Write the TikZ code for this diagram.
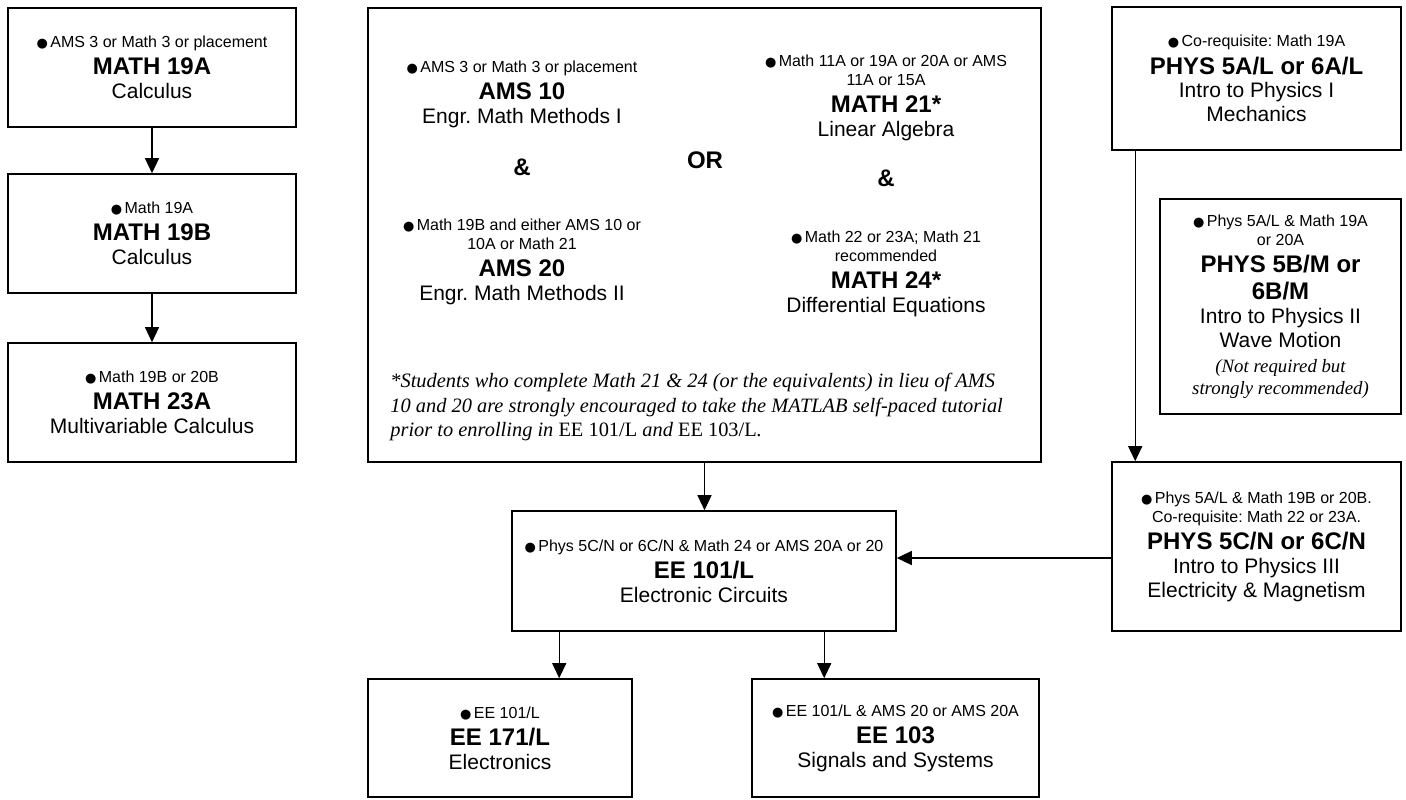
\documentclass[tikz,border=0pt]{standalone}
\usepackage{fontspec}
\setmainfont{Liberation Sans}
\newfontfamily\notefont{Liberation Serif}
\newfontfamily\symf{DejaVu Sans}
\usetikzlibrary{arrows.meta}
\frenchspacing
\newcommand\bul{{\symf\fontsize{6.5}{6.5}\selectfont ●}\hspace{1.2pt}}
\newcommand\cpre[1]{{\fontsize{8}{9.6}\selectfont #1\par}}
\newcommand\cttl[1]{{\fontsize{12}{13.6}\selectfont\bfseries #1\par}}
\newcommand\csub[1]{{\fontsize{10.5}{11.9}\selectfont #1\par}}
\newcommand\cital[2]{{\notefont\itshape\fontsize{9.4}{#1}\selectfont #2\par}}
\begin{document}
\begin{tikzpicture}[x=0.5pt,y=-0.5pt,
  box/.style={draw, line width=0.8pt, inner sep=0pt, align=flush center},
  lbl/.style={inner sep=0pt, align=flush center},
  bigword/.style={inner sep=0pt, font=\fontsize{12}{14}\selectfont\bfseries},
  arr/.style={line width=0.6pt, -{Triangle[length=7.5pt,width=7pt]}}]
\useasboundingbox (0,0) rectangle (1406,799);

% left column
\node[box, minimum width=144pt, minimum height=59.5pt, text width=138pt] (m19a) at (152,67.5)
  {\cpre{\bul AMS 3 or Math 3 or placement}\cttl{MATH 19A}\csub{Calculus}};
\node[box, minimum width=144pt, minimum height=59.5pt, text width=138pt] (m19b) at (152,233.5)
  {\cpre{\bul Math 19A}\cttl{MATH 19B}\csub{Calculus}};
\node[box, minimum width=144pt, minimum height=59.5pt, text width=138pt] (m23a) at (152,402.5)
  {\cpre{\bul Math 19B or 20B}\cttl{MATH 23A}\csub{Multivariable Calculus}};

% middle box
\node[box, minimum width=336.5pt, minimum height=227pt] (mid) at (704.5,235) {};
\node[lbl, text width=130pt, anchor=north] (ams10) at (522,60)
  {\cpre{\bul AMS 3 or Math 3 or placement}\cttl{AMS 10}\csub{Engr. Math Methods I}};
\node[bigword, anchor=base] (and1) at (522,175) {\&};
\node[lbl, text width=130pt, anchor=north] (ams20) at (522,218)
  {\cpre{\bul Math 19B and either AMS 10 or}\cpre{10A or Math 21}\cttl{AMS 20}\csub{Engr. Math Methods II}};
\node[bigword, anchor=base] (or) at (705,168) {OR};
\node[lbl, text width=130pt, anchor=north] (m21) at (886,54)
  {\cpre{\bul Math 11A or 19A or 20A or AMS}\cpre{11A or 15A}\cttl{MATH 21*}\csub{Linear Algebra}};
\node[bigword, anchor=base] (and2) at (886,186) {\&};
\node[lbl, text width=130pt, anchor=north] (m24) at (886,230)
  {\cpre{\bul Math 22 or 23A; Math 21}\cpre{recommended}\cttl{MATH 24*}\csub{Differential Equations}};
\node[inner sep=0pt, anchor=north west, align=left,
  font=\notefont\itshape\fontsize{10.2}{12.25}\selectfont] (note) at (390,373)
  {*Students who complete Math 21 \& 24 (or the equivalents) in lieu of AMS\\
   10 and 20 are strongly encouraged to take the MATLAB self-paced tutorial\\
   prior to enrolling in {\upshape EE 101/L} and {\upshape EE 103/L}.};

% right column
\node[box, minimum width=144.5pt, minimum height=71.5pt, text width=138pt] (p5a) at (1256.5,78.5)
  {\cpre{\bul Co-requisite: Math 19A}\cttl{PHYS 5A/L or 6A/L}\csub{Intro to Physics I}\csub{Mechanics}};
\node[box, minimum width=120.5pt, minimum height=107.5pt, text width=114pt] (p5b) at (1280.5,306.5)
  {\cpre{\bul Phys 5A/L \& Math 19A}\cpre{or 20A}\cttl{PHYS 5B/M or}\cttl{6B/M}\csub{Intro to Physics II}\csub{Wave Motion}\cital{12.5}{(Not required but}\cital{11}{strongly recommended)}};
\node[box, minimum width=144.5pt, minimum height=84.5pt, text width=138pt] (p5c) at (1256.5,546.5)
  {\cpre{\bul Phys 5A/L \& Math 19B or 20B.}\cpre{Co-requisite: Math 22 or 23A.}\cttl{PHYS 5C/N or 6C/N}\csub{Intro to Physics III}\csub{Electricity \& Magnetism}};

% bottom
\node[box, minimum width=192pt, minimum height=60pt, text width=189pt] (ee101) at (704,571)
  {\cpre{\bul Phys 5C/N or 6C/N \& Math 24 or AMS 20A or 20}\cttl{EE 101/L}\csub{Electronic Circuits}};
\node[box, minimum width=132pt, minimum height=59pt, text width=126pt] (ee171) at (500,738)
  {\cpre{\bul EE 101/L}\cttl{EE 171/L}\csub{Electronics}};
\node[box, minimum width=143.5pt, minimum height=59pt, text width=138pt] (ee103) at (895.5,738)
  {\cpre{\bul EE 101/L \& AMS 20 or AMS 20A}\cttl{EE 103}\csub{Signals and Systems}};

% connectors
\draw[arr] (m19a.south) -- (m19b.north);
\draw[arr] (m19b.south) -- (m23a.north);
\draw[arr] (mid.south) -- (mid.south |- ee101.north);
\draw[arr] ([xshift=12pt]p5a.south west) -- ([xshift=12pt]p5a.south west |- p5c.north);
\draw[arr] ([yshift=-5.75pt]p5c.west) -- ([yshift=-5.75pt]p5c.west -| ee101.east);
\draw[arr] ([xshift=24pt]ee101.south west) -- ([xshift=24pt]ee101.south west |- ee171.north);
\draw[arr] ([xshift=156.5pt]ee101.south west) -- ([xshift=156.5pt]ee101.south west |- ee103.north);
\end{tikzpicture}
\end{document}
